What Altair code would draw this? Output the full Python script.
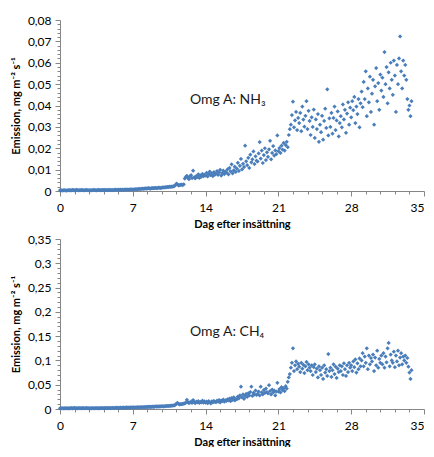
import altair as alt
import pandas as pd

# NH3 emission, 10 readings per day (mg m-2 s-1)
nh3 = [
    0.0003, 0.0004, 0.0002, 0.0003, 0.0004, 0.0003, 0.0002, 0.0003, 0.0004, 0.0003,
    0.0004, 0.0003, 0.0005, 0.0004, 0.0003, 0.0004, 0.0005, 0.0004, 0.0003, 0.0004,
    0.0004, 0.0005, 0.0004, 0.0003, 0.0004, 0.0005, 0.0004, 0.0004, 0.0003, 0.0004,
    0.0003, 0.0004, 0.0005, 0.0004, 0.0004, 0.0003, 0.0004, 0.0005, 0.0004, 0.0004,
    0.0004, 0.0005, 0.0004, 0.0005, 0.0004, 0.0005, 0.0004, 0.0005, 0.0005, 0.0004,
    0.0005, 0.0004, 0.0005, 0.0006, 0.0005, 0.0005, 0.0006, 0.0005, 0.0006, 0.0005,
    0.0006, 0.0005, 0.0006, 0.0007, 0.0006, 0.0007, 0.0006, 0.0007, 0.0008, 0.0007,
    0.0008, 0.0007, 0.0008, 0.0009, 0.0008, 0.0009, 0.0010, 0.0009, 0.0010, 0.0011,
    0.0010, 0.0011, 0.0012, 0.0011, 0.0012, 0.0013, 0.0012, 0.0011, 0.0013, 0.0014,
    0.0013, 0.0014, 0.0015, 0.0013, 0.0014, 0.0016, 0.0015, 0.0014, 0.0016, 0.0017,
    0.0016, 0.0018, 0.0017, 0.0019, 0.0018, 0.0020, 0.0019, 0.0021, 0.0020, 0.0022,
    0.0023, 0.0028, 0.0034, 0.0031, 0.0026, 0.0027, 0.0029, 0.0030, 0.0028, 0.0031,
    0.0058, 0.0066, 0.0071, 0.0062, 0.0055, 0.0068, 0.0074, 0.0060, 0.0095, 0.0064,
    0.0059, 0.0070, 0.0065, 0.0078, 0.0061, 0.0073, 0.0067, 0.0080, 0.0069, 0.0075,
    0.0072, 0.0085, 0.0068, 0.0079, 0.0091, 0.0074, 0.0083, 0.0070, 0.0088, 0.0077,
    0.0081, 0.0093, 0.0076, 0.0087, 0.0099, 0.0072, 0.0084, 0.0095, 0.0079, 0.0090,
    0.0086, 0.0101, 0.0078, 0.0108, 0.0092, 0.0125, 0.0083, 0.0097, 0.0114, 0.0089,
    0.0105, 0.0132, 0.0094, 0.0118, 0.0150, 0.0101, 0.0127, 0.0112, 0.0212, 0.0139,
    0.0121, 0.0155, 0.0108, 0.0170, 0.0134, 0.0148, 0.0185, 0.0126, 0.0162, 0.0142,
    0.0138, 0.0176, 0.0229, 0.0152, 0.0189, 0.0131, 0.0168, 0.0200, 0.0145, 0.0181,
    0.0160, 0.0195, 0.0235, 0.0148, 0.0178, 0.0210, 0.0166, 0.0190, 0.0172, 0.0260,
    0.0186, 0.0201, 0.0178, 0.0212, 0.0194, 0.0225, 0.0189, 0.0215, 0.0230, 0.0205,
    0.0262, 0.0289, 0.0310, 0.0355, 0.0418, 0.0298, 0.0330, 0.0370, 0.0285, 0.0342,
    0.0318, 0.0365, 0.0280, 0.0395, 0.0334, 0.0301, 0.0352, 0.0420, 0.0290, 0.0375,
    0.0328, 0.0262, 0.0345, 0.0300, 0.0381, 0.0248, 0.0335, 0.0290, 0.0360, 0.0230,
    0.0310, 0.0275, 0.0352, 0.0240, 0.0328, 0.0385, 0.0295, 0.0476, 0.0260, 0.0340,
    0.0300, 0.0365, 0.0268, 0.0342, 0.0395, 0.0285, 0.0330, 0.0372, 0.0255, 0.0318,
    0.0350, 0.0298, 0.0405, 0.0335, 0.0380, 0.0272, 0.0362, 0.0415, 0.0310, 0.0390,
    0.0345, 0.0420, 0.0378, 0.0440, 0.0318, 0.0395, 0.0360, 0.0430, 0.0298, 0.0410,
    0.0465, 0.0392, 0.0510, 0.0430, 0.0560, 0.0350, 0.0480, 0.0415, 0.0535, 0.0370,
    0.0455, 0.0520, 0.0310, 0.0490, 0.0575, 0.0420, 0.0505, 0.0380, 0.0545, 0.0470,
    0.0530, 0.0440, 0.0650, 0.0500, 0.0580, 0.0410, 0.0555, 0.0480, 0.0600, 0.0520,
    0.0450, 0.0610, 0.0540, 0.0370, 0.0590, 0.0500, 0.0620, 0.0723, 0.0560, 0.0480,
    0.0610, 0.0540, 0.0590, 0.0520, 0.0430, 0.0380, 0.0400, 0.0350, 0.0420,
]

# CH4 emission, 10 readings per day (mg m-2 s-1)
ch4 = [
    0.0015, 0.0012, 0.0018, 0.0014, 0.0011, 0.0016, 0.0013, 0.0017, 0.0012, 0.0015,
    0.0016, 0.0019, 0.0013, 0.0017, 0.0021, 0.0015, 0.0018, 0.0014, 0.0020, 0.0016,
    0.0018, 0.0014, 0.0021, 0.0017, 0.0015, 0.0022, 0.0016, 0.0019, 0.0013, 0.0018,
    0.0015, 0.0019, 0.0017, 0.0013, 0.0020, 0.0016, 0.0018, 0.0014, 0.0017, 0.0019,
    0.0017, 0.0020, 0.0016, 0.0019, 0.0022, 0.0018, 0.0021, 0.0017, 0.0023, 0.0019,
    0.0021, 0.0024, 0.0019, 0.0023, 0.0026, 0.0022, 0.0025, 0.0021, 0.0027, 0.0024,
    0.0026, 0.0029, 0.0024, 0.0028, 0.0031, 0.0027, 0.0030, 0.0026, 0.0032, 0.0029,
    0.0031, 0.0034, 0.0030, 0.0035, 0.0033, 0.0037, 0.0034, 0.0036, 0.0039, 0.0035,
    0.0038, 0.0041, 0.0037, 0.0043, 0.0040, 0.0044, 0.0042, 0.0046, 0.0043, 0.0047,
    0.0045, 0.0049, 0.0052, 0.0048, 0.0053, 0.0050, 0.0055, 0.0052, 0.0057, 0.0054,
    0.0056, 0.0060, 0.0058, 0.0063, 0.0061, 0.0066, 0.0064, 0.0069, 0.0067, 0.0072,
    0.0075, 0.0090, 0.0110, 0.0125, 0.0105, 0.0095, 0.0100, 0.0098, 0.0104, 0.0110,
    0.0115, 0.0130, 0.0190, 0.0140, 0.0120, 0.0135, 0.0150, 0.0125, 0.0185, 0.0140,
    0.0120, 0.0150, 0.0135, 0.0160, 0.0125, 0.0145, 0.0138, 0.0170, 0.0130, 0.0155,
    0.0130, 0.0150, 0.0120, 0.0160, 0.0140, 0.0115, 0.0155, 0.0135, 0.0165, 0.0145,
    0.0140, 0.0170, 0.0150, 0.0185, 0.0135, 0.0175, 0.0160, 0.0195, 0.0150, 0.0180,
    0.0165, 0.0200, 0.0180, 0.0215, 0.0160, 0.0225, 0.0190, 0.0240, 0.0175, 0.0210,
    0.0200, 0.0255, 0.0220, 0.0280, 0.0460, 0.0240, 0.0300, 0.0210, 0.0265, 0.0310,
    0.0250, 0.0320, 0.0280, 0.0350, 0.0460, 0.0270, 0.0330, 0.0300, 0.0380, 0.0290,
    0.0310, 0.0360, 0.0280, 0.0460, 0.0340, 0.0300, 0.0390, 0.0330, 0.0420, 0.0350,
    0.0320, 0.0490, 0.0370, 0.0300, 0.0400, 0.0340, 0.0380, 0.0280, 0.0360, 0.0540,
    0.0360, 0.0410, 0.0340, 0.0450, 0.0390, 0.0430, 0.0370, 0.0470, 0.0420, 0.0560,
    0.0650, 0.0720, 0.0850, 0.0950, 0.1250, 0.0780, 0.0900, 0.0980, 0.0820, 0.0930,
    0.0870, 0.0760, 0.0950, 0.0830, 0.0910, 0.0740, 0.0880, 0.0970, 0.0800, 0.0920,
    0.0850, 0.0780, 0.0900, 0.0700, 0.0860, 0.0920, 0.0760, 0.0830, 0.0650, 0.0880,
    0.0800, 0.0700, 0.0850, 0.0620, 0.0900, 0.0750, 0.0820, 0.0680, 0.1130, 0.0780,
    0.0850, 0.0660, 0.0800, 0.0920, 0.0720, 0.0870, 0.0640, 0.0830, 0.0760, 0.0900,
    0.0780, 0.0880, 0.0700, 0.0940, 0.0820, 0.0680, 0.0900, 0.0760, 0.0950, 0.0850,
    0.0900, 0.0780, 0.0980, 0.0860, 0.1020, 0.0750, 0.0940, 0.0820, 0.1040, 0.0880,
    0.1000, 0.1150, 0.0880, 0.1080, 0.0950, 0.1250, 0.0820, 0.1100, 0.0920, 0.1050,
    0.0980, 0.1120, 0.0780, 0.1060, 0.0900, 0.1200, 0.0850, 0.1030, 0.0950, 0.1100,
    0.0920, 0.1150, 0.0850, 0.1080, 0.0960, 0.1250, 0.1360, 0.0880, 0.1120, 0.1000,
    0.0950, 0.1180, 0.0860, 0.1100, 0.0980, 0.1200, 0.0900, 0.1060, 0.1150, 0.0920,
    0.1080, 0.1000, 0.1100, 0.0950, 0.1050, 0.0870, 0.0750, 0.0620, 0.0800,
]

readings_per_day = 10
days = [i / readings_per_day for i in range(len(nh3))]

x_major = [0, 7, 14, 21, 28, 35]
x_minor = [1.4, 2.8, 4.2, 5.6, 8.4, 9.8, 11.2, 12.6, 15.4, 16.8, 18.2, 19.6,
           22.4, 23.8, 25.2, 26.6, 29.4, 30.8, 32.2, 33.6]
y1_major = [0, 0.01, 0.02, 0.03, 0.04, 0.05, 0.06, 0.07, 0.08]
y1_minor = [0.002, 0.004, 0.006, 0.008, 0.012, 0.014, 0.016, 0.018, 0.022, 0.024,
            0.026, 0.028, 0.032, 0.034, 0.036, 0.038, 0.042, 0.044, 0.046, 0.048,
            0.052, 0.054, 0.056, 0.058, 0.062, 0.064, 0.066, 0.068, 0.072, 0.074,
            0.076, 0.078]
y2_major = [0, 0.05, 0.1, 0.15, 0.2, 0.25, 0.3, 0.35]
y2_minor = [0.01, 0.02, 0.03, 0.04, 0.06, 0.07, 0.08, 0.09, 0.11, 0.12, 0.13, 0.14,
            0.16, 0.17, 0.18, 0.19, 0.21, 0.22, 0.23, 0.24, 0.26, 0.27, 0.28, 0.29,
            0.31, 0.32, 0.33, 0.34]

label_nh3 = "Omg A: NH₃"
label_ch4 = "Omg A: CH₄"
label_pos_nh3 = (12.5, 0.0425)
label_pos_ch4 = (12.5, 0.158)

x_title = "Dag efter insättning"
y_title = "Emission, mg m⁻² s⁻¹"

FONT = "Lato"
BLUE = "#4A7EBB"
GREY = "#868686"
W = 364
comma = "replace(format(datum.value, '~g'), '.', ',')"
last_right = {"condition": {"test": "datum.value == 35", "value": "right"},
              "value": "center"}


def panel(values, ymax, ymaj, ymin, label, lpos, h):
    df = pd.DataFrame({"day": days, "val": values})
    xs = alt.Scale(domain=[0, 35], nice=False, zero=False)
    ys = alt.Scale(domain=[0, ymax], nice=False)
    pts = alt.Chart(df).mark_point(
        shape="diamond", filled=True, size=18, color=BLUE, opacity=1
    ).encode(
        x=alt.X("day:Q", scale=xs, axis=alt.Axis(
            values=x_major, title=x_title, orient="bottom", tickSize=5,
            labelPadding=6, titlePadding=5, labelAlign=last_right)),
        y=alt.Y("val:Q", scale=ys, axis=alt.Axis(
            values=ymaj, title=y_title, orient="left", tickSize=5,
            labelExpr=comma, labelPadding=4, titlePadding=6)),
    )
    minor = alt.Chart(df).mark_point(size=1, opacity=0).encode(
        x=alt.X("day:Q", scale=xs, axis=alt.Axis(
            values=x_minor, labels=False, domain=False, orient="bottom",
            tickSize=3, title=None)),
        y=alt.Y("val:Q", scale=ys, axis=alt.Axis(
            values=ymin, labels=False, domain=False, orient="left",
            tickSize=3, title=None)),
    )
    tdf = pd.DataFrame({"x": [lpos[0]], "y": [lpos[1]], "t": [label]})
    txt = alt.Chart(tdf).mark_text(
        align="left", baseline="middle", font=FONT, fontSize=14, color="#1a1a1a"
    ).encode(x=alt.X("x:Q", scale=xs, axis=None),
             y=alt.Y("y:Q", scale=ys, axis=None), text="t:N")
    return alt.layer(minor, pts, txt).resolve_axis(
        x="independent", y="independent"
    ).properties(width=W, height=h)


top = panel(nh3, 0.08, y1_major, y1_minor, label_nh3, label_pos_nh3, 171)
bottom = panel(ch4, 0.35, y2_major, y2_minor, label_ch4, label_pos_ch4, 170)

chart = alt.vconcat(top, bottom, spacing=4).configure_view(
    stroke=None
).configure_axis(
    grid=False, domainColor=GREY, tickColor=GREY, labelColor="#000000",
    titleColor="#000000", labelFont=FONT, titleFont=FONT, labelFontSize=12,
    titleFontSize=11, titleFontWeight="bold"
).properties(padding={"left": 2, "right": 0, "top": 6, "bottom": 0})

chart.save("out.html", embed_options={"renderer": "svg", "actions": False})
